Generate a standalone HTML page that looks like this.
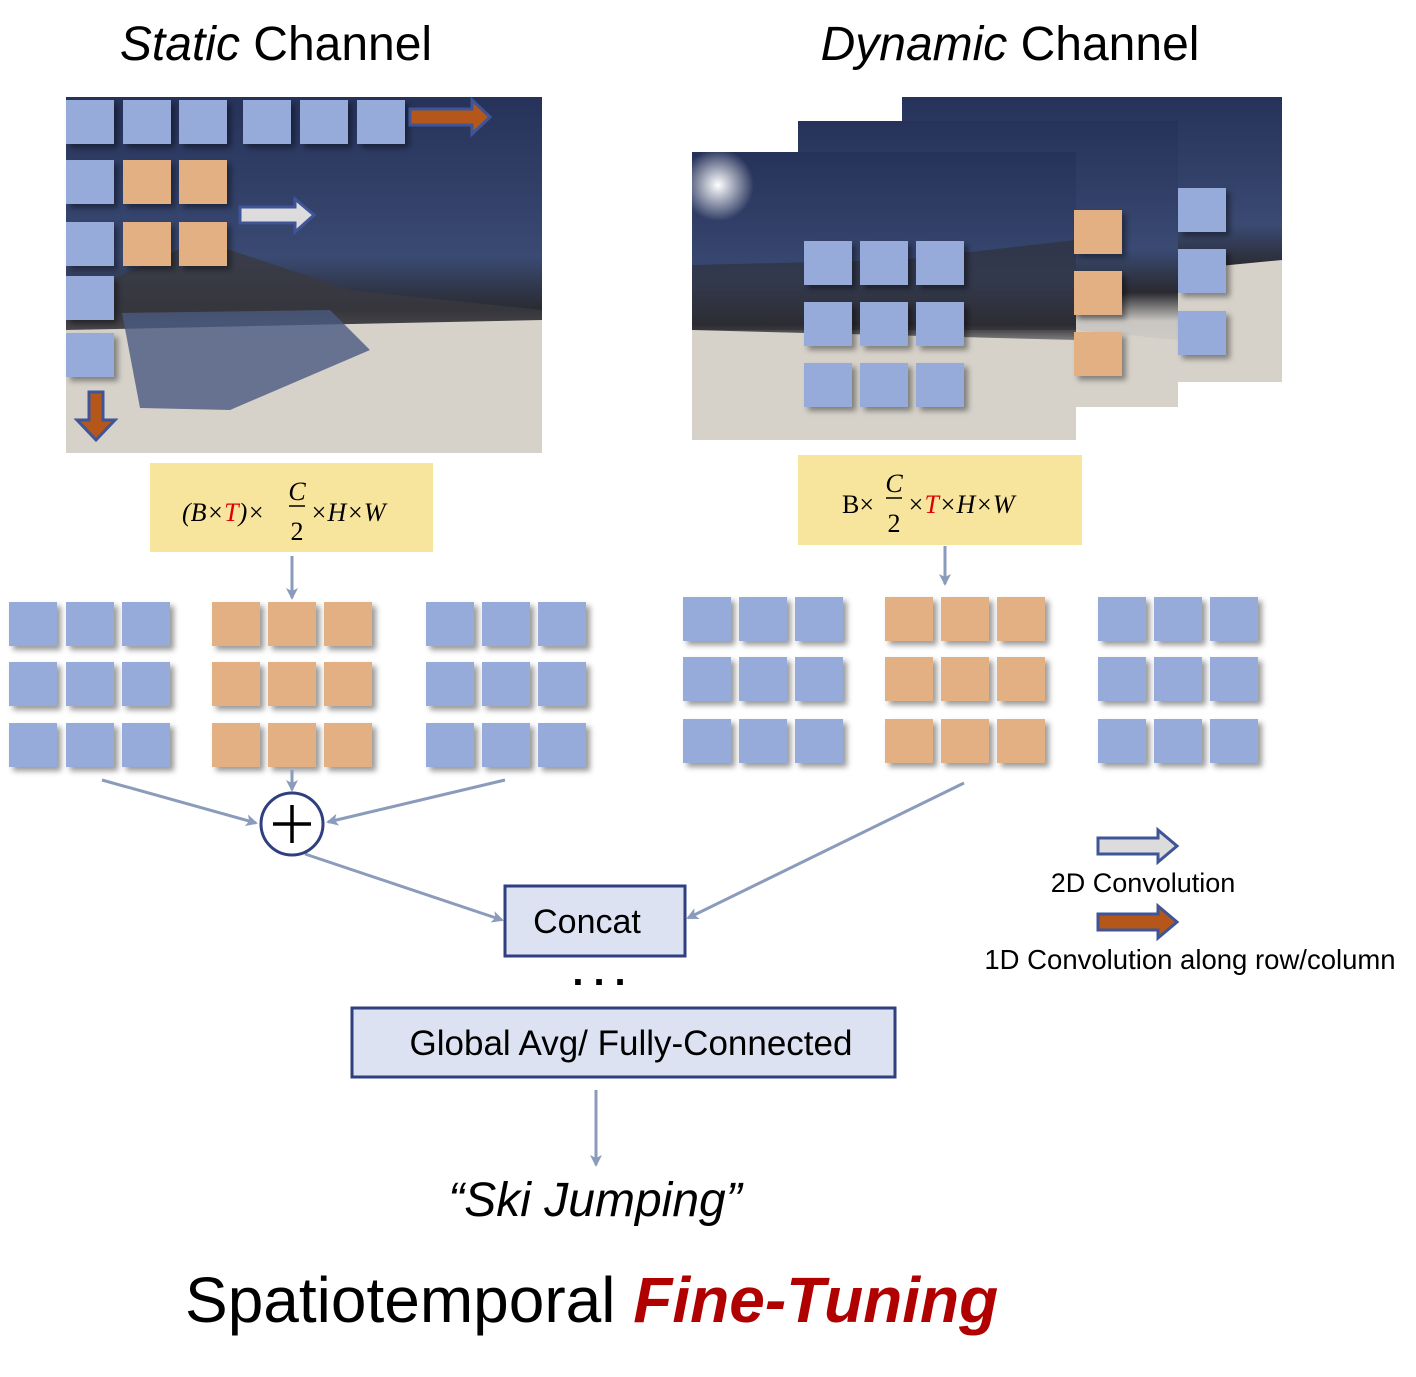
<!DOCTYPE html>
<html><head><meta charset="utf-8"><style>
html,body{margin:0;padding:0;background:#fff;}
svg{display:block;}
text{font-family:"Liberation Sans",sans-serif;}
text.m{font-family:"Liberation Serif",serif;font-style:italic;}
text.s{font-family:"Liberation Serif",serif;}
</style></head><body>
<svg width="1416" height="1377" viewBox="0 0 1416 1377" xmlns="http://www.w3.org/2000/svg">
<defs>
<linearGradient id="sky" x1="0" y1="0" x2="0" y2="1">
<stop offset="0" stop-color="#26325a"/><stop offset="0.45" stop-color="#3a4a72"/><stop offset="0.6" stop-color="#2a2a30"/><stop offset="0.7" stop-color="#c9c6c2"/><stop offset="1" stop-color="#ddd8cf"/>
</linearGradient>
<radialGradient id="sun"><stop offset="0" stop-color="#fff"/><stop offset="1" stop-color="#fff" stop-opacity="0"/></radialGradient>
<filter id="sh" x="-30%" y="-30%" width="170%" height="170%"><feDropShadow dx="4" dy="4" stdDeviation="3" flood-color="#000" flood-opacity="0.4"/></filter>
<marker id="ah" markerWidth="12" markerHeight="12" refX="10" refY="6" orient="auto" markerUnits="userSpaceOnUse"><path d="M0,0 L12,6 L0,12 L3,6 Z" fill="#8a9bbb"/></marker>
<g id="b"><rect width="48" height="44" fill="#97abdb" filter="url(#sh)"/></g>
<g id="o"><rect width="48" height="44" fill="#e3b083" filter="url(#sh)"/></g>
</defs>

<text x="276" y="60" font-size="48" text-anchor="middle"><tspan font-style="italic">Static</tspan> Channel</text>
<text x="1010" y="60" font-size="48" text-anchor="middle"><tspan font-style="italic">Dynamic</tspan> Channel</text>

<rect x="66" y="97" width="476" height="356" fill="url(#sky)"/>
<path d="M66 300 L200 240 L350 290 L542 310 L542 330 L66 330 Z" fill="#3a3a40" opacity="0.8"/>
<path d="M66 330 L542 320 L542 453 L66 453 Z" fill="#d6d2ca"/>
<path d="M122 313 L330 310 L370 350 L230 410 L140 408 Z" fill="#4a5a80" opacity="0.8"/>
<g>
<use href="#b" x="66" y="100"/><use href="#b" x="123" y="100"/><use href="#b" x="179" y="100"/>
<use href="#b" x="243" y="100"/><use href="#b" x="300" y="100"/><use href="#b" x="357" y="100"/>
<use href="#b" x="66" y="160"/><use href="#o" x="123" y="160"/><use href="#o" x="179" y="160"/>
<use href="#b" x="66" y="222"/><use href="#o" x="123" y="222"/><use href="#o" x="179" y="222"/>
<use href="#b" x="66" y="276"/><use href="#b" x="66" y="333"/>
</g>
<path d="M410 109 L472 109 L472 100 L490 117 L472 134 L472 125 L410 125 Z" fill="#b5561a" stroke="#3f5597" stroke-width="3"/>
<path d="M240 207 L295 207 L295 199 L314 215 L295 232 L295 223 L240 223 Z" fill="#dcdcdc" stroke="#3f5597" stroke-width="3"/>
<path d="M89 392 L103 392 L103 420 L115 420 L96 440 L77 420 L89 420 Z" fill="#b5561a" stroke="#3f5597" stroke-width="3"/>

<rect x="902" y="97" width="380" height="285" fill="url(#sky)"/>
<rect x="798" y="121" width="380" height="286" fill="url(#sky)"/>
<rect x="692" y="152" width="384" height="288" fill="url(#sky)"/>
<path d="M692 265 L900 260 L1076 240 L1076 330 L692 330 Z" fill="#2e2e36" opacity="0.6"/>
<path d="M692 330 L1076 340 L1076 440 L692 440 Z" fill="#d6d2ca"/>
<path d="M1076 330 L1178 340 L1178 407 L1076 407 Z" fill="#d6d2ca"/>
<path d="M1178 270 L1282 260 L1282 382 L1178 382 Z" fill="#d6d2ca"/>
<circle cx="718" cy="185" r="36" fill="url(#sun)"/>
<g>
<use href="#b" x="804" y="241"/><use href="#b" x="860" y="241"/><use href="#b" x="916" y="241"/>
<use href="#b" x="804" y="302"/><use href="#b" x="860" y="302"/><use href="#b" x="916" y="302"/>
<use href="#b" x="804" y="363"/><use href="#b" x="860" y="363"/><use href="#b" x="916" y="363"/>
<use href="#o" x="1074" y="210"/><use href="#o" x="1074" y="271"/><use href="#o" x="1074" y="332"/>
<use href="#b" x="1178" y="188"/><use href="#b" x="1178" y="249"/><use href="#b" x="1178" y="311"/>
</g>

<rect x="150" y="463" width="283" height="89" fill="#f7e49d"/>
<text class="m" y="521" font-size="26"><tspan x="182">(B×</tspan><tspan fill="#d00">T</tspan><tspan>)×</tspan></text>
<text class="m" x="297" y="500" font-size="26" text-anchor="middle">C</text>
<line x1="289" y1="506" x2="305" y2="506" stroke="#000" stroke-width="1.5"/>
<text class="s" x="297" y="540" font-size="26" text-anchor="middle">2</text>
<text class="m" x="310" y="521" font-size="26">×H×W</text>

<rect x="798" y="455" width="284" height="90" fill="#f7e49d"/>
<text class="s" x="842" y="513" font-size="26">B×</text>
<text class="m" x="894" y="492" font-size="26" text-anchor="middle">C</text>
<line x1="886" y1="498" x2="902" y2="498" stroke="#000" stroke-width="1.5"/>
<text class="s" x="894" y="532" font-size="26" text-anchor="middle">2</text>
<text class="m" y="513" font-size="26"><tspan x="907">×</tspan><tspan fill="#d00">T</tspan><tspan>×H×W</tspan></text>

<line x1="292" y1="556" x2="292" y2="598" stroke="#8a9bbb" stroke-width="3" marker-end="url(#ah)"/>
<line x1="945" y1="546" x2="945" y2="584" stroke="#8a9bbb" stroke-width="3" marker-end="url(#ah)"/>

<g>
<use href="#b" x="9" y="602"/><use href="#b" x="66" y="602"/><use href="#b" x="122" y="602"/>
<use href="#b" x="9" y="662"/><use href="#b" x="66" y="662"/><use href="#b" x="122" y="662"/>
<use href="#b" x="9" y="723"/><use href="#b" x="66" y="723"/><use href="#b" x="122" y="723"/>
<use href="#o" x="212" y="602"/><use href="#o" x="268" y="602"/><use href="#o" x="324" y="602"/>
<use href="#o" x="212" y="662"/><use href="#o" x="268" y="662"/><use href="#o" x="324" y="662"/>
<use href="#o" x="212" y="723"/><use href="#o" x="268" y="723"/><use href="#o" x="324" y="723"/>
<use href="#b" x="426" y="602"/><use href="#b" x="482" y="602"/><use href="#b" x="538" y="602"/>
<use href="#b" x="426" y="662"/><use href="#b" x="482" y="662"/><use href="#b" x="538" y="662"/>
<use href="#b" x="426" y="723"/><use href="#b" x="482" y="723"/><use href="#b" x="538" y="723"/>

<use href="#b" x="683" y="597"/><use href="#b" x="739" y="597"/><use href="#b" x="795" y="597"/>
<use href="#b" x="683" y="657"/><use href="#b" x="739" y="657"/><use href="#b" x="795" y="657"/>
<use href="#b" x="683" y="719"/><use href="#b" x="739" y="719"/><use href="#b" x="795" y="719"/>
<use href="#o" x="885" y="597"/><use href="#o" x="941" y="597"/><use href="#o" x="997" y="597"/>
<use href="#o" x="885" y="657"/><use href="#o" x="941" y="657"/><use href="#o" x="997" y="657"/>
<use href="#o" x="885" y="719"/><use href="#o" x="941" y="719"/><use href="#o" x="997" y="719"/>
<use href="#b" x="1098" y="597"/><use href="#b" x="1154" y="597"/><use href="#b" x="1210" y="597"/>
<use href="#b" x="1098" y="657"/><use href="#b" x="1154" y="657"/><use href="#b" x="1210" y="657"/>
<use href="#b" x="1098" y="719"/><use href="#b" x="1154" y="719"/><use href="#b" x="1210" y="719"/>
</g>

<g stroke="#8a9bbb" stroke-width="3" fill="none">
<line x1="102" y1="780" x2="256" y2="823" marker-end="url(#ah)"/>
<line x1="292" y1="770" x2="292" y2="790" marker-end="url(#ah)"/>
<line x1="505" y1="780" x2="328" y2="822" marker-end="url(#ah)"/>
<line x1="305" y1="854" x2="502" y2="920" marker-end="url(#ah)"/>
<line x1="964" y1="783" x2="688" y2="918" marker-end="url(#ah)"/>
<line x1="596" y1="1090" x2="596" y2="1165" marker-end="url(#ah)"/>
</g>
<circle cx="292" cy="824" r="31" fill="#fff" stroke="#2f3f80" stroke-width="3"/>
<line x1="273" y1="824" x2="311" y2="824" stroke="#000" stroke-width="3.5"/>
<line x1="292" y1="805" x2="292" y2="843" stroke="#000" stroke-width="3.5"/>

<rect x="505" y="886" width="180" height="70" fill="#dde2f2" stroke="#2f3f80" stroke-width="3"/>
<text x="587" y="933" font-size="34" text-anchor="middle">Concat</text>
<text x="604" y="985" font-size="40" text-anchor="middle" font-weight="bold" letter-spacing="10">...</text>
<rect x="352" y="1008" width="543" height="69" fill="#dde2f2" stroke="#2f3f80" stroke-width="3"/>
<text x="631" y="1055" font-size="35" text-anchor="middle">Global Avg/ Fully-Connected</text>

<text x="595" y="1216" font-size="48" text-anchor="middle" font-style="italic">“Ski Jumping”</text>
<text x="185" y="1322" font-size="64">Spatiotemporal <tspan fill="#b00000" font-weight="bold" font-style="italic">Fine-Tuning</tspan></text>

<path d="M1098 838 L1158 838 L1158 830 L1177 846 L1158 862 L1158 854 L1098 854 Z" fill="#dcdcdc" stroke="#3f5597" stroke-width="3"/>
<text x="1143" y="892" font-size="27" text-anchor="middle">2D Convolution</text>
<path d="M1098 914 L1158 914 L1158 906 L1177 922 L1158 938 L1158 930 L1098 930 Z" fill="#b5561a" stroke="#3f5597" stroke-width="3"/>
<text x="1190" y="969" font-size="27.5" text-anchor="middle">1D Convolution along row/column</text>
</svg>
</body></html>
